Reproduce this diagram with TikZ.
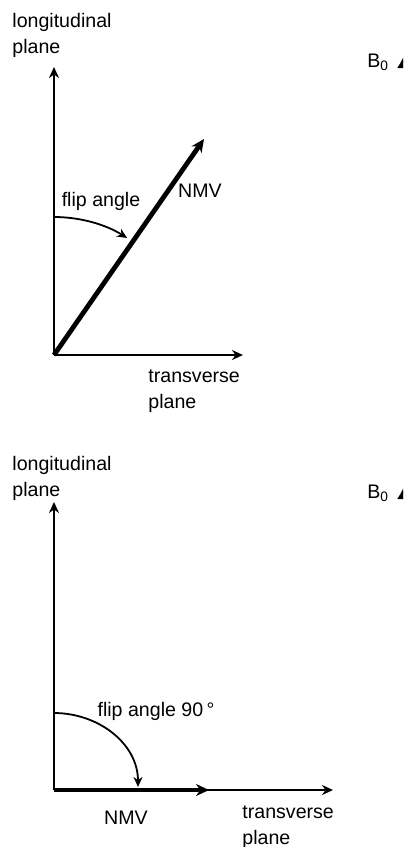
\documentclass[tikz,border=0pt]{standalone}
\usepackage{fontspec}
\setmainfont{Liberation Sans}
\usetikzlibrary{arrows.meta}
\begin{document}
\begin{tikzpicture}[x=0.5pt,y=-0.5pt,
  lbl/.style={inner sep=0pt, font=\fontsize{9.8}{13}\selectfont},
  axis/.style={line width=1.2pt, -{Stealth[length=5.5pt,width=5pt]}},
  bzero/.style={line width=1.2pt, -{Latex[length=9pt,width=9pt]}},
  nmv/.style={line width=2.4pt, -{Stealth[length=6.5pt,width=6pt]}},
  flip/.style={line width=0.9pt, -{Stealth[length=5pt,width=4.5pt]}}]
\useasboundingbox (0,0) rectangle (403,847);
\clip (0,0) rectangle (403,847);
% ---------- top panel ----------
\coordinate (o1) at (54,355);
\coordinate (v1) at (54,67);
\coordinate (h1) at (243,355);
\coordinate (n1) at (204,139);
\coordinate (a1) at (54,217);
\draw[axis] (o1) -- (v1);
\draw[axis] (o1) -- (h1);
\draw[nmv] (o1) -- (n1);
\draw[flip] (a1) arc[start angle=-90, end angle=-58, radius=138];
\node[lbl, anchor=base west, align=left] (long1) at (12,53) {longitudinal\\plane};
\node[lbl, anchor=base] (fa1) at (101,206) {flip angle};
\node[lbl, anchor=base] (nm1) at (200,197) {NMV};
\node[lbl, anchor=base west, align=left] (tr1) at (148,408) {transverse\\plane};
\node[lbl, anchor=base west] (b1) at (367,67) {B\textsubscript{0}};
\coordinate (bt1) at (406,50);
\coordinate (bb1) at (406,120);
\draw[bzero] (bb1) -- (bt1);
% ---------- bottom panel ----------
\coordinate (o2) at (54,790);
\coordinate (v2) at (54,502);
\coordinate (h2) at (333,790);
\coordinate (n2) at (209,790);
\coordinate (a2) at (54,713);
\coordinate (e2) at (138,787);
\draw[axis] (o2) -- (v2);
\draw[axis] (o2) -- (h2);
\draw[nmv] (o2) -- (n2);
\draw[flip] (a2) to[out=0,in=90] (e2);
\node[lbl, anchor=base west, align=left] (long2) at (12,496) {longitudinal\\plane};
\node[lbl, anchor=base] (fa2) at (156,716) {flip angle 90\,°};
\node[lbl, anchor=base] (nm2) at (126,824) {NMV};
\node[lbl, anchor=base west, align=left] (tr2) at (242,844) {transverse\\plane};
\node[lbl, anchor=base west] (b2) at (367,498) {B\textsubscript{0}};
\coordinate (bt2) at (406,481);
\coordinate (bb2) at (406,550);
\draw[bzero] (bb2) -- (bt2);
\end{tikzpicture}
\end{document}
